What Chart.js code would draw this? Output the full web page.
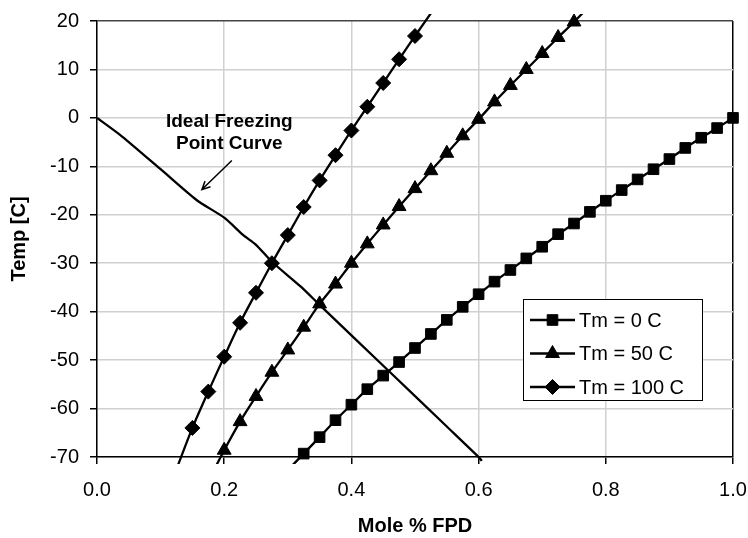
<!DOCTYPE html>
<html lang="en">
<head>
    <meta charset="UTF-8">
    <title>Temp vs Mole % FPD</title>
    <script src="https://cdn.jsdelivr.net/npm/chart.js"></script>
    <style>
        html, body { margin: 0; padding: 0; background: #fff; }
        #wrap { width: 748px; height: 538px; }
    </style>
</head>
<body>
    <div id="wrap"><canvas id="fpdChart" width="748" height="538"></canvas></div>

    <script>
        // series (first/last points of each run sit just outside the plot)
        const tm0X = [0.3, 0.325, 0.35, 0.375, 0.4, 0.425, 0.45, 0.475, 0.5, 0.525, 0.55, 0.575, 0.6, 0.625, 0.65, 0.675, 0.7, 0.725, 0.75, 0.775, 0.8, 0.825, 0.85, 0.875, 0.9, 0.925, 0.95, 0.975, 1.0];
        const tm0Y = [-72.7, -69.3, -65.9, -62.4, -59.2, -56.0, -53.2, -50.4, -47.5, -44.6, -41.7, -39.0, -36.4, -33.8, -31.4, -29.0, -26.6, -24.0, -21.8, -19.4, -17.1, -14.9, -12.7, -10.6, -8.5, -6.2, -4.1, -2.1, 0];

        const tm50X = [0.175, 0.2, 0.225, 0.25, 0.275, 0.3, 0.325, 0.35, 0.375, 0.4, 0.425, 0.45, 0.475, 0.5, 0.525, 0.55, 0.575, 0.6, 0.625, 0.65, 0.675, 0.7, 0.725, 0.75, 0.775];
        const tm50Y = [-75.0, -68.6, -62.7, -57.5, -52.5, -47.9, -43.2, -38.4, -34.3, -30.0, -26.0, -22.1, -18.3, -14.6, -10.9, -7.3, -3.7, -0.3, 3.3, 6.7, 10.0, 13.3, 16.6, 19.8, 23.2];

        const tm100X = [0.125, 0.15, 0.175, 0.2, 0.225, 0.25, 0.275, 0.3, 0.325, 0.35, 0.375, 0.4, 0.425, 0.45, 0.475, 0.5, 0.525];
        const tm100Y = [-72.5, -64.0, -56.5, -49.3, -42.3, -36.1, -30.0, -24.2, -18.4, -12.9, -7.7, -2.6, 2.3, 7.2, 12.1, 16.9, 21.6];

        const idealX = [0, 0.04, 0.1, 0.157, 0.2, 0.23, 0.25, 0.275, 0.32, 0.35, 0.46, 0.55, 0.6, 0.605];
        const idealY = [0, -3.9, -10.6, -17, -20.6, -24.2, -26.2, -29.7, -34.8, -38.6, -52.4, -63.7, -70, -70.8];

        const seriesNames = ['Tm = 0 C', 'Tm = 50 C', 'Tm = 100 C'];
        const xRange = [0, 1], xStep = 0.2;
        const yRange = [-70, 20], yStep = 10;
        const noteLines = ['Ideal Freezing', 'Point Curve'];

        const zip = (xs, ys) => xs.map((x, i) => ({ x: x, y: ys[i] }));
        const inside = ctx => ctx.raw && ctx.raw.y >= yRange[0] && ctx.raw.y <= yRange[1];

        const markers = [
            { style: 'rect', radius: 7.5 },
            { style: 'triangle', radius: 8 },
            { style: 'rectRot', radius: 7.5 }
        ];

        function curve(label, data, m) {
            return {
                label: label,
                data: data,
                showLine: true,
                borderColor: '#000',
                backgroundColor: '#000',
                borderWidth: 2.3,
                tension: 0.3,
                pointStyle: m.style,
                pointRadius: ctx => inside(ctx) ? m.radius : 0,
                pointBorderWidth: 1,
                clip: { left: 0, top: 7, right: 8, bottom: 7 }
            };
        }

        // legend box + arrow note, drawn after the datasets
        const extras = {
            id: 'extras',
            afterDraw(chart) {
                const c = chart.ctx, ca = chart.chartArea;
                const xs = chart.scales.x, ys = chart.scales.y;
                c.save();

                // legend
                const bx = ca.right - 210, by = ca.bottom - 158, bw = 179, bh = 101;
                c.fillStyle = '#fff';
                c.fillRect(bx, by, bw, bh);
                c.strokeStyle = '#000';
                c.lineWidth = 1;
                c.strokeRect(bx + 0.5, by + 0.5, bw, bh);
                c.font = '20px "Liberation Sans", Arial, sans-serif';
                c.textBaseline = 'middle';
                seriesNames.forEach((name, i) => {
                    const y = by + 21 + i * 33.5;
                    c.strokeStyle = '#000';
                    c.lineWidth = 2.3;
                    c.beginPath();
                    c.moveTo(bx + 7, y);
                    c.lineTo(bx + 52, y);
                    c.stroke();
                    c.fillStyle = '#000';
                    c.lineWidth = 1;
                    Chart.helpers.drawPoint(c, { pointStyle: markers[i].style, radius: markers[i].radius, rotation: 0, borderWidth: 1 }, bx + 29.5, y);
                    c.fillStyle = '#000';
                    c.fillText(name, bx + 56, y + 1);
                });

                // note + arrow
                c.font = 'bold 19px "Liberation Sans", Arial, sans-serif';
                c.textAlign = 'center';
                c.fillStyle = '#000';
                const tx = xs.getPixelForValue(0.208);
                c.fillText(noteLines[0], tx, ys.getPixelForValue(-0.9));
                c.fillText(noteLines[1], tx, ys.getPixelForValue(-5.4));
                const x0 = xs.getPixelForValue(0.212), y0 = ys.getPixelForValue(-8.8);
                const x1 = xs.getPixelForValue(0.165), y1 = ys.getPixelForValue(-14.8);
                const ang = Math.atan2(y1 - y0, x1 - x0);
                c.lineWidth = 1.5;
                c.beginPath();
                c.moveTo(x0, y0);
                c.lineTo(x1, y1);
                c.moveTo(x1 - 9 * Math.cos(ang - 0.45), y1 - 9 * Math.sin(ang - 0.45));
                c.lineTo(x1, y1);
                c.lineTo(x1 - 9 * Math.cos(ang + 0.45), y1 - 9 * Math.sin(ang + 0.45));
                c.stroke();
                c.restore();
            }
        };

        const tickFont = { family: '"Liberation Sans", Arial, sans-serif', size: 20 };
        const titleFont = { family: '"Liberation Sans", Arial, sans-serif', size: 20, weight: 'bold' };

        new Chart(document.getElementById('fpdChart'), {
            type: 'scatter',
            data: {
                datasets: [
                    curve(seriesNames[0], zip(tm0X, tm0Y), markers[0]),
                    curve(seriesNames[1], zip(tm50X, tm50Y), markers[1]),
                    curve(seriesNames[2], zip(tm100X, tm100Y), markers[2]),
                    {
                        label: 'Ideal',
                        data: zip(idealX, idealY),
                        showLine: true,
                        borderColor: '#000',
                        borderWidth: 2.3,
                        tension: 0.25,
                        pointRadius: 0,
                        clip: { left: 0, top: 0, right: 0, bottom: 7 }
                    }
                ]
            },
            options: {
                responsive: false,
                animation: false,
                layout: { padding: { top: 21, right: 15, left: 0, bottom: 0 } },
                plugins: { legend: { display: false }, tooltip: { enabled: false } },
                scales: {
                    x: {
                        type: 'linear',
                        min: xRange[0], max: xRange[1],
                        afterFit: s => { s.height = 81; s.paddingLeft = 0; s.paddingRight = 0; },
                        ticks: { stepSize: xStep, padding: 14, color: '#000', font: tickFont, callback: v => v.toFixed(1) },
                        grid: {
                            color: ctx => ctx.tick && ctx.tick.value >= xRange[1] ? '#000' : '#d0d0d0',
                            lineWidth: 1.5,
                            tickColor: '#000',
                            tickLength: 7
                        },
                        border: { color: '#000', width: 1.5 },
                        title: { display: true, text: 'Mole % FPD', color: '#000', font: titleFont, padding: { top: 0, bottom: 0 } }
                    },
                    y: {
                        type: 'linear',
                        min: yRange[0], max: yRange[1],
                        afterFit: s => { s.width = 97; s.paddingTop = 0; s.paddingBottom = 0; },
                        ticks: { stepSize: yStep, padding: 11, color: '#000', font: tickFont },
                        grid: {
                            color: ctx => ctx.tick && ctx.tick.value >= yRange[1] ? '#444' : '#d0d0d0',
                            lineWidth: 1.5,
                            tickColor: '#000',
                            tickLength: 7
                        },
                        border: { color: '#000', width: 1.5 },
                        title: { display: true, text: 'Temp [C]', color: '#000', font: titleFont, padding: { top: 7, bottom: 0 } }
                    }
                }
            },
            plugins: [extras]
        });
    </script>
</body>
</html>
